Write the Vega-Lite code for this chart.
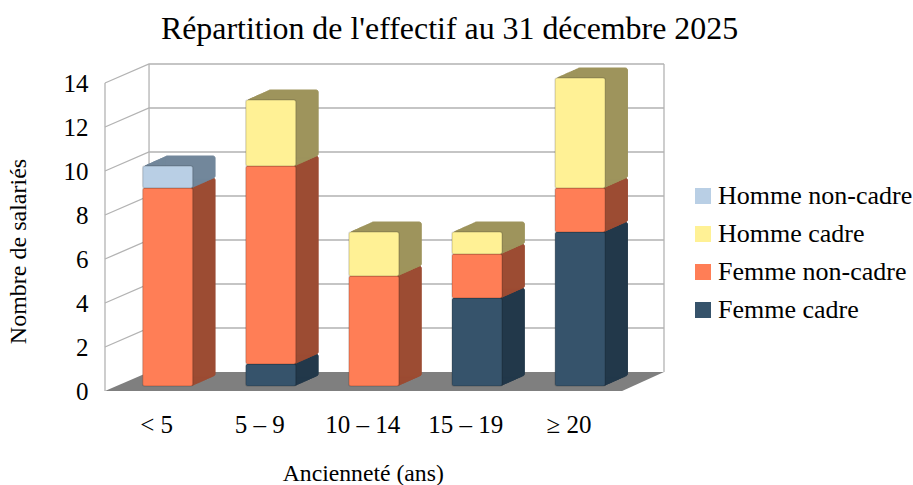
{
"$schema":"https://vega.github.io/schema/vega-lite/v6.json",
"width":559,"height":327,
"autosize":{"type":"none"},
"padding":{"left":105,"top":64,"right":249,"bottom":94},
"background":"white",
"title":{"text":"Répartition de l'effectif au 31 décembre 2025","font":"Liberation Serif","fontSize":31.9,"fontWeight":"normal","color":"#000000","anchor":"middle","dx":65,"offset":16},
"config":{"view":{"stroke":null},"font":"Liberation Serif"},
"datasets":{
"bars":[
{"cat":"< 5","serie":"Femme non-cadre","value":9},
{"cat":"< 5","serie":"Homme non-cadre","value":1},
{"cat":"5 – 9","serie":"Femme cadre","value":1},
{"cat":"5 – 9","serie":"Femme non-cadre","value":9},
{"cat":"5 – 9","serie":"Homme cadre","value":3},
{"cat":"10 – 14","serie":"Femme non-cadre","value":5},
{"cat":"10 – 14","serie":"Homme cadre","value":2},
{"cat":"15 – 19","serie":"Femme cadre","value":4},
{"cat":"15 – 19","serie":"Femme non-cadre","value":2},
{"cat":"15 – 19","serie":"Homme cadre","value":1},
{"cat":"≥ 20","serie":"Femme cadre","value":7},
{"cat":"≥ 20","serie":"Femme non-cadre","value":2},
{"cat":"≥ 20","serie":"Homme cadre","value":5}
],
"floor":[{"a":0,"b":5.014,"h":0},{"a":0.427,"b":5.42,"h":0.864}],
"frame":[
{"g":"s2","a":0,"h":2},{"g":"s2","a":0.427,"h":2.864},{"g":"s2","a":5.42,"h":2.864},
{"g":"s4","a":0,"h":4},{"g":"s4","a":0.427,"h":4.864},{"g":"s4","a":5.42,"h":4.864},
{"g":"s6","a":0,"h":6},{"g":"s6","a":0.427,"h":6.864},{"g":"s6","a":5.42,"h":6.864},
{"g":"s8","a":0,"h":8},{"g":"s8","a":0.427,"h":8.864},{"g":"s8","a":5.42,"h":8.864},
{"g":"s10","a":0,"h":10},{"g":"s10","a":0.427,"h":10.864},{"g":"s10","a":5.42,"h":10.864},
{"g":"s12","a":0,"h":12},{"g":"s12","a":0.427,"h":12.864},{"g":"s12","a":5.42,"h":12.864},
{"g":"s14","a":0,"h":14},{"g":"s14","a":0.427,"h":14.864},{"g":"s14","a":5.42,"h":14.864},
{"g":"left","a":0,"h":0},{"g":"left","a":0,"h":14},
{"g":"corner","a":0.427,"h":0.864},{"g":"corner","a":0.427,"h":14.864},
{"g":"right","a":5.42,"h":0.864},{"g":"right","a":5.42,"h":14.864}
]
},
"resolve":{"scale":{"x":"independent"}},
"layer":[
{
"layer":[
{"data":{"name":"frame"},"mark":{"type":"line","stroke":"#b3b3b3","strokeWidth":1.3,"interpolate":"linear"},
 "encoding":{"x":{"field":"a","type":"quantitative","scale":{"domain":[0,5.42],"nice":false,"zero":false},"axis":null},
 "y":{"field":"h","type":"quantitative","scale":{"domain":[0,14.864],"nice":false},
  "axis":{"title":"Nombre de salariés","titleFont":"Liberation Serif","titleFontSize":24,"titleFontWeight":"normal","titleColor":"#000000","titleX":-75,"titleY":187,"values":[0,2,4,6,8,10,12,14],"labelFont":"Liberation Serif","labelFontSize":25,"labelColor":"#000000","labelPadding":17,"ticks":false,"domain":false,"grid":false}},
 "detail":{"field":"g"},"order":{"field":"a"}}},
{"data":{"name":"floor"},"mark":{"type":"area","orient":"horizontal","color":"#7f7f7f"},
 "encoding":{"x":{"field":"a","type":"quantitative","scale":{"domain":[0,5.42],"nice":false,"zero":false},"axis":null},
 "x2":{"field":"b"},
 "y":{"field":"h","type":"quantitative","scale":{"domain":[0,14.864],"nice":false}}}}
]
},
{
"data":{"name":"bars"},
"transform":[{"stack":"value","groupby":["cat"],"sort":[{"field":"serie","order":"ascending"}],"as":["y0","y1"]}],
"encoding":{
 "x":{"field":"cat","type":"nominal","sort":null,
  "scale":{"domain":["< 5","5 – 9","10 – 14","15 – 19","≥ 20"],"range":[0,515.5],"paddingInner":0.515,"paddingOuter":0.2575},
  "axis":{"title":"Ancienneté (ans)","titleFont":"Liberation Serif","titleFontSize":23.7,"titleFontWeight":"normal","titleColor":"#000000","titleY":70,"labelFont":"Liberation Serif","labelFontSize":25,"labelColor":"#000000","labelAngle":0,"labelPadding":21,"ticks":false,"domain":false,"grid":false}},
 "y":{"field":"y1","type":"quantitative","scale":{"domain":[0,14.864],"nice":false}},
 "y2":{"field":"y0"}
},
"layer":[
{"transform":[{"filter":"datum.serie==='Femme cadre'"}],"encoding":{"color":{"value":"#22384a"},"stroke":{"value":"#22384a"}},
"layer":[
{"mark":{"type":"bar","xOffset":13,"yOffset":-5.8,"y2Offset":-5.8,"cornerRadius":2}},{"mark":{"type":"bar","xOffset":14.9,"yOffset":-6.7,"y2Offset":-6.7,"cornerRadius":2}},{"mark":{"type":"bar","xOffset":16.7,"yOffset":-7.5,"y2Offset":-7.5,"cornerRadius":2}},{"mark":{"type":"bar","xOffset":18.6,"yOffset":-8.3,"y2Offset":-8.3,"cornerRadius":2}},{"mark":{"type":"bar","xOffset":20.5,"yOffset":-9.2,"y2Offset":-9.2,"cornerRadius":2}},{"mark":{"type":"bar","xOffset":22.3,"yOffset":-10,"y2Offset":-10,"cornerRadius":2}},{"mark":{"type":"bar","xOffset":24.2,"yOffset":-10.8,"y2Offset":-10.8,"cornerRadius":2}},{"mark":{"type":"bar","xOffset":26,"yOffset":-11.6,"y2Offset":-11.6,"cornerRadius":2}},{"mark":{"type":"bar","xOffset":27.9,"yOffset":-12.5,"y2Offset":-12.5,"cornerRadius":2}},{"mark":{"type":"bar","xOffset":29.8,"yOffset":-13.3,"y2Offset":-13.3,"cornerRadius":2}},{"mark":{"type":"bar","xOffset":31.6,"yOffset":-14.1,"y2Offset":-14.1,"cornerRadius":2}},{"mark":{"type":"bar","xOffset":33.5,"yOffset":-15,"y2Offset":-15,"cornerRadius":2}}
]},
{"transform":[{"filter":"datum.serie==='Femme non-cadre'"}],"encoding":{"color":{"value":"#9c4c33"},"stroke":{"value":"#9c4c33"}},
"layer":[
{"mark":{"type":"bar","xOffset":13,"yOffset":-5.8,"y2Offset":-5.8,"cornerRadius":2}},{"mark":{"type":"bar","xOffset":14.9,"yOffset":-6.7,"y2Offset":-6.7,"cornerRadius":2}},{"mark":{"type":"bar","xOffset":16.7,"yOffset":-7.5,"y2Offset":-7.5,"cornerRadius":2}},{"mark":{"type":"bar","xOffset":18.6,"yOffset":-8.3,"y2Offset":-8.3,"cornerRadius":2}},{"mark":{"type":"bar","xOffset":20.5,"yOffset":-9.2,"y2Offset":-9.2,"cornerRadius":2}},{"mark":{"type":"bar","xOffset":22.3,"yOffset":-10,"y2Offset":-10,"cornerRadius":2}},{"mark":{"type":"bar","xOffset":24.2,"yOffset":-10.8,"y2Offset":-10.8,"cornerRadius":2}},{"mark":{"type":"bar","xOffset":26,"yOffset":-11.6,"y2Offset":-11.6,"cornerRadius":2}},{"mark":{"type":"bar","xOffset":27.9,"yOffset":-12.5,"y2Offset":-12.5,"cornerRadius":2}},{"mark":{"type":"bar","xOffset":29.8,"yOffset":-13.3,"y2Offset":-13.3,"cornerRadius":2}},{"mark":{"type":"bar","xOffset":31.6,"yOffset":-14.1,"y2Offset":-14.1,"cornerRadius":2}},{"mark":{"type":"bar","xOffset":33.5,"yOffset":-15,"y2Offset":-15,"cornerRadius":2}}
]},
{"transform":[{"filter":"datum.serie==='Homme cadre'"}],"encoding":{"color":{"value":"#9e945c"},"stroke":{"value":"#9e945c"}},
"layer":[
{"mark":{"type":"bar","xOffset":13,"yOffset":-5.8,"y2Offset":-5.8,"cornerRadius":2}},{"mark":{"type":"bar","xOffset":14.9,"yOffset":-6.7,"y2Offset":-6.7,"cornerRadius":2}},{"mark":{"type":"bar","xOffset":16.7,"yOffset":-7.5,"y2Offset":-7.5,"cornerRadius":2}},{"mark":{"type":"bar","xOffset":18.6,"yOffset":-8.3,"y2Offset":-8.3,"cornerRadius":2}},{"mark":{"type":"bar","xOffset":20.5,"yOffset":-9.2,"y2Offset":-9.2,"cornerRadius":2}},{"mark":{"type":"bar","xOffset":22.3,"yOffset":-10,"y2Offset":-10,"cornerRadius":2}},{"mark":{"type":"bar","xOffset":24.2,"yOffset":-10.8,"y2Offset":-10.8,"cornerRadius":2}},{"mark":{"type":"bar","xOffset":26,"yOffset":-11.6,"y2Offset":-11.6,"cornerRadius":2}},{"mark":{"type":"bar","xOffset":27.9,"yOffset":-12.5,"y2Offset":-12.5,"cornerRadius":2}},{"mark":{"type":"bar","xOffset":29.8,"yOffset":-13.3,"y2Offset":-13.3,"cornerRadius":2}},{"mark":{"type":"bar","xOffset":31.6,"yOffset":-14.1,"y2Offset":-14.1,"cornerRadius":2}},{"mark":{"type":"bar","xOffset":33.5,"yOffset":-15,"y2Offset":-15,"cornerRadius":2}}
]},
{"transform":[{"filter":"datum.serie==='Homme non-cadre'"}],"encoding":{"color":{"value":"#72879b"},"stroke":{"value":"#72879b"}},
"layer":[
{"mark":{"type":"bar","xOffset":13,"yOffset":-5.8,"y2Offset":-5.8,"cornerRadius":2}},{"mark":{"type":"bar","xOffset":14.9,"yOffset":-6.7,"y2Offset":-6.7,"cornerRadius":2}},{"mark":{"type":"bar","xOffset":16.7,"yOffset":-7.5,"y2Offset":-7.5,"cornerRadius":2}},{"mark":{"type":"bar","xOffset":18.6,"yOffset":-8.3,"y2Offset":-8.3,"cornerRadius":2}},{"mark":{"type":"bar","xOffset":20.5,"yOffset":-9.2,"y2Offset":-9.2,"cornerRadius":2}},{"mark":{"type":"bar","xOffset":22.3,"yOffset":-10,"y2Offset":-10,"cornerRadius":2}},{"mark":{"type":"bar","xOffset":24.2,"yOffset":-10.8,"y2Offset":-10.8,"cornerRadius":2}},{"mark":{"type":"bar","xOffset":26,"yOffset":-11.6,"y2Offset":-11.6,"cornerRadius":2}},{"mark":{"type":"bar","xOffset":27.9,"yOffset":-12.5,"y2Offset":-12.5,"cornerRadius":2}},{"mark":{"type":"bar","xOffset":29.8,"yOffset":-13.3,"y2Offset":-13.3,"cornerRadius":2}},{"mark":{"type":"bar","xOffset":31.6,"yOffset":-14.1,"y2Offset":-14.1,"cornerRadius":2}},{"mark":{"type":"bar","xOffset":33.5,"yOffset":-15,"y2Offset":-15,"cornerRadius":2}}
]},
{"mark":{"type":"bar","xOffset":11.15,"yOffset":-5,"y2Offset":-5,"cornerRadius":2,"stroke":"#000000","strokeOpacity":0.14,"strokeWidth":1.5},
 "encoding":{"color":{"field":"serie","type":"nominal","scale":{"domain":["Homme non-cadre","Homme cadre","Femme non-cadre","Femme cadre"],"range":["#b9cfe5","#fff195","#ff7e56","#36536b"]},
 "legend":{"title":null,"orient":"none","legendX":585,"legendY":119,"symbolType":"square","symbolSize":256,"symbolStrokeWidth":0,"labelFont":"Liberation Serif","labelFontSize":26,"labelColor":"#000000","labelLimit":300,"labelOffset":2,"rowPadding":12}}}}
]
}
]
}
